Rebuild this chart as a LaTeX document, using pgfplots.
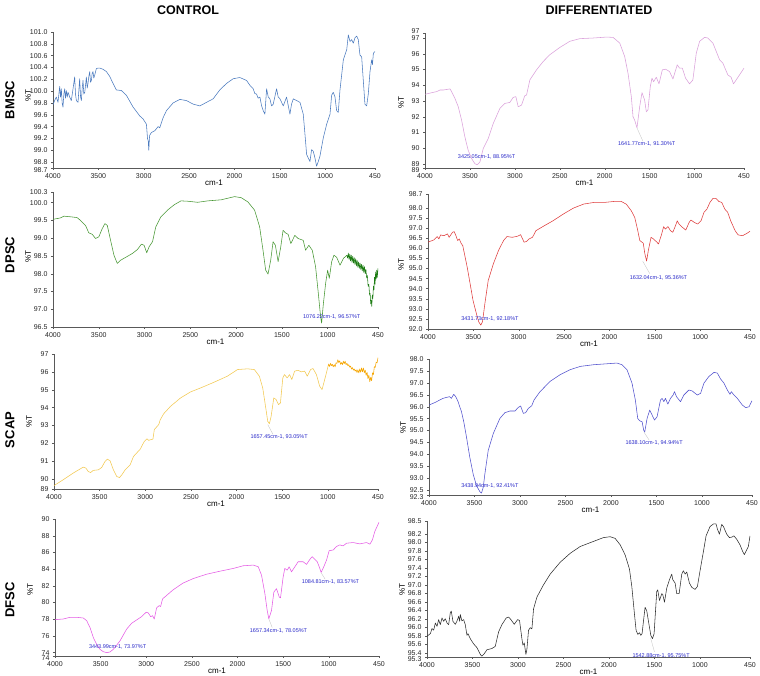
\documentclass[border=0pt]{standalone}
\usepackage{fontspec}
\setmainfont{Liberation Sans}
\setsansfont{Liberation Sans}
\usepackage{pgfplots}
\pgfplotsset{compat=1.18}
\definecolor{cBMc}{RGB}{74,122,190}
\definecolor{cBMd}{RGB}{218,160,218}
\definecolor{cDPc}{RGB}{70,150,50}
\definecolor{cDPcn}{RGB}{30,125,20}
\definecolor{cDPd}{RGB}{222,60,60}
\definecolor{cSCc}{RGB}{242,200,80}
\definecolor{cSCcn}{RGB}{245,165,0}
\definecolor{cSCd}{RGB}{80,80,205}
\definecolor{cDFc}{RGB}{228,90,228}
\definecolor{cDFd}{RGB}{45,45,45}
\definecolor{canno}{RGB}{40,40,200}
\tikzset{anno/.style={font=\fontsize{5.5}{5.5}\selectfont, text=canno, inner sep=0pt},
lead/.style={draw=black!25, line width=0.3pt}}
\pgfplotsset{ftir/.style={
  scale only axis, anchor=south west, clip mode=individual,
  x dir=reverse, xmin=450, xmax=4000,
  xtick={450,1000,1500,2000,2500,3000,3500,4000},
  axis x line*=bottom, axis y line*=left,
  axis line style={-, draw=black!65, line width=0.4pt},
  tick style={draw=black!65, line width=0.4pt},
  tick align=outside, major tick length=2pt,
  ticklabel style={font=\fontsize{7}{7}\selectfont, text=black!85},
  /pgf/number format/assume math mode=true,
  xticklabel style={/pgf/number format/fixed, /pgf/number format/set thousands separator={}, /pgf/number format/precision=0},
  xlabel={cm-1}, xlabel style={font=\fontsize{8}{8}\selectfont, yshift=5.5pt},
  every axis plot/.append style={line width=0.55pt, mark=none, line join=round},
  extra y tick style={yticklabel style={yshift=-2.5pt}},
},
y1/.style={yticklabel style={/pgf/number format/fixed, /pgf/number format/fixed zerofill, /pgf/number format/precision=1}},
y0/.style={yticklabel style={/pgf/number format/fixed, /pgf/number format/precision=0}},
}
\begin{document}
\begin{tikzpicture}
\useasboundingbox (0,0) rectangle (760pt,676pt);
\node[font=\bfseries\fontsize{12.5}{12.5}\selectfont] at (188pt,666pt) {CONTROL};
\node[font=\bfseries\fontsize{12.5}{12.5}\selectfont] at (599pt,666pt) {DIFFERENTIATED};
\foreach \y/\t in {576/BMSC,421/DPSC,246/SCAP,76/DFSC}
  \node[rotate=90, font=\bfseries\fontsize{13}{13}\selectfont] at (10pt,\y pt) {\t};
\foreach \x/\y in {28/580,28/419,29/254,30/86,401/573,401/411,403/248,402/86}
  \node[rotate=90, font=\fontsize{8}{8}\selectfont] at (\x pt,\y pt) {\%T};

% ---------------- BMSC control
\begin{axis}[ftir, y1, at={(53pt,508pt)}, width=322pt, height=136pt,
  ymin=98.7, ymax=101.0, ytick={98.8,99.0,99.2,99.4,99.6,99.8,100.0,100.2,100.4,100.6,100.8,101.0}, extra y ticks={98.7}]
\addplot[cBMc] coordinates {(4000,99.77)(3982,99.84)(3963,99.90)(3945,99.81)(3926,100.08)(3917,99.90)(3908,100.04)(3899,99.80)(3890,99.73)(3880,99.95)(3871,100.04)(3862,99.88)(3853,100.01)(3843,99.90)(3834,99.98)(3816,99.90)(3798,99.84)(3779,100.04)(3761,100.24)(3752,99.95)(3742,99.84)(3724,99.81)(3706,100.21)(3696,99.90)(3687,99.84)(3678,100.05)(3669,100.18)(3660,99.95)(3650,99.98)(3641,100.10)(3632,100.24)(3623,100.05)(3614,100.13)(3605,100.25)(3595,100.33)(3586,100.15)(3577,100.18)(3568,100.30)(3559,100.33)(3550,100.22)(3540,100.27)(3522,100.38)(3503,100.39)(3485,100.39)(3450,100.37)(3411,100.33)(3375,100.25)(3338,100.13)(3301,100.02)(3246,100.01)(3191,99.93)(3117,99.73)(3043,99.58)(3007,99.53)(2970,99.44)(2958,99.20)(2950,99.16)(2944,99.00)(2935,99.25)(2915,99.30)(2878,99.33)(2841,99.40)(2823,99.38)(2786,99.55)(2749,99.67)(2676,99.80)(2602,99.86)(2528,99.84)(2455,99.78)(2381,99.75)(2308,99.81)(2234,99.87)(2161,100.02)(2087,100.13)(2013,100.21)(1940,100.23)(1866,100.18)(1830,100.10)(1793,100.04)(1775,99.96)(1756,99.95)(1738,99.88)(1719,99.90)(1700,99.75)(1682,99.67)(1664,99.61)(1645,100.04)(1627,99.90)(1609,99.87)(1590,99.75)(1572,99.78)(1535,100.04)(1517,99.90)(1498,99.87)(1461,99.75)(1425,99.90)(1388,99.61)(1370,99.78)(1351,99.87)(1314,99.84)(1277,99.81)(1241,99.61)(1222,99.27)(1204,98.93)(1186,98.87)(1167,98.81)(1149,99.01)(1130,98.98)(1112,98.87)(1094,98.73)(1075,98.81)(1057,98.90)(1020,99.21)(983,99.44)(946,99.61)(928,99.93)(910,99.98)(891,99.90)(873,99.67)(855,99.64)(836,100.02)(799,100.53)(762,100.70)(744,100.95)(726,100.84)(707,100.87)(689,100.81)(671,100.90)(652,100.93)(634,100.87)(616,100.61)(597,100.58)(579,100.18)(561,99.78)(542,99.75)(524,99.95)(505,100.33)(487,100.53)(478,100.45)(468,100.64)(450,100.67)};
\end{axis}

% ---------------- BMSC differentiated
\begin{axis}[ftir, y0, at={(425pt,508pt)}, width=319pt, height=135pt,
  ymin=88.75, ymax=97.32, ytick={89,90,91,92,93,94,95,96,97}, extra y ticks={88.75}]
\addplot[cBMd] coordinates {(4000,93.43)(3870,93.60)(3833,93.70)(3796,93.70)(3722,93.77)(3704,93.60)(3667,93.17)(3630,92.64)(3593,91.79)(3556,90.72)(3519,89.87)(3481,89.34)(3444,89.02)(3419,88.96)(3389,89.13)(3352,89.98)(3296,90.62)(3241,91.57)(3167,92.53)(3111,92.85)(3056,92.91)(3019,93.23)(2989,93.28)(2963,92.64)(2926,92.74)(2889,93.34)(2870,93.38)(2833,94.34)(2759,94.98)(2685,95.51)(2611,95.94)(2500,96.40)(2389,96.79)(2278,96.96)(2130,97.00)(1981,97.06)(1907,97.04)(1833,96.68)(1778,95.83)(1741,94.77)(1704,93.28)(1685,92.00)(1667,91.79)(1641,91.30)(1611,92.64)(1585,93.53)(1556,93.06)(1537,92.32)(1519,92.43)(1493,93.91)(1474,94.45)(1456,94.23)(1426,94.51)(1396,94.09)(1359,94.98)(1322,95.02)(1278,94.87)(1241,94.40)(1193,95.30)(1167,95.09)(1137,95.09)(1100,94.45)(1056,94.09)(1019,94.34)(981,96.04)(944,96.79)(889,97.04)(852,97.00)(796,96.68)(722,95.62)(685,95.40)(630,94.66)(593,94.51)(567,94.09)(537,94.34)(450,95.09)};
\draw[draw=black!65, line width=0.4pt] (axis cs:4000,97.32) -- ++(-2pt,0pt);
\node[anchor=east, font=\fontsize{7}{7}\selectfont, text=black!85, xshift=-2pt, yshift=2pt] at (axis cs:4000,97.32) {97};
\draw[lead] (axis cs:1641.77,91.30) -- (axis cs:1575,90.45);
\node[anno] at (axis cs:3315,89.45) {3425.05cm-1, 88.95\%T};
\node[anno] at (axis cs:1533,90.30) {1641.77cm-1, 91.30\%T};
\end{axis}

% ---------------- DPSC control
\begin{axis}[ftir, y1, at={(53pt,349pt)}, width=325pt, height=135pt,
  ymin=96.5, ymax=100.3, ytick={96.5,97.0,97.5,98.0,98.5,99.0,99.5,100.0,100.3}]
\addplot[cDPc] coordinates {(4000,99.53)(3920,99.57)(3880,99.62)(3846,99.61)(3800,99.60)(3737,99.58)(3700,99.50)(3645,99.36)(3609,99.15)(3572,99.11)(3535,98.99)(3499,99.04)(3462,99.27)(3433,99.41)(3407,99.36)(3371,98.94)(3334,98.52)(3298,98.29)(3261,98.38)(3206,98.46)(3133,98.57)(3078,98.68)(3034,98.83)(3005,98.80)(2976,98.59)(2950,98.76)(2913,98.90)(2877,99.32)(2822,99.60)(2749,99.79)(2676,99.94)(2602,100.05)(2529,100.04)(2420,100.01)(2310,100.05)(2163,100.08)(2017,100.17)(1944,100.14)(1871,100.02)(1798,99.79)(1743,99.32)(1706,98.66)(1677,98.10)(1651,97.99)(1622,98.38)(1596,98.90)(1571,98.80)(1541,98.34)(1512,98.76)(1487,99.22)(1461,99.15)(1432,99.11)(1402,98.85)(1358,99.08)(1322,98.99)(1267,98.94)(1241,98.66)(1205,98.80)(1168,98.66)(1132,98.20)(1102,97.45)(1077,96.79)(1066,96.61)(1048,97.12)(1022,97.73)(1000,98.10)(982,97.87)(956,98.34)(931,98.52)(901,98.46)(865,98.24)(828,98.43)(791,98.52)};
\addplot[cDPcn] coordinates {(791,98.52)(782,98.44)(774,98.58)(766,98.40)(758,98.55)(750,98.36)(742,98.52)(734,98.32)(726,98.49)(718,98.30)(710,98.45)(702,98.26)(694,98.42)(686,98.22)(678,98.38)(670,98.18)(662,98.33)(654,98.15)(646,98.30)(638,98.12)(630,98.26)(622,98.08)(614,98.24)(606,98.04)(598,98.20)(590,98.00)(582,98.12)(574,97.88)(566,97.95)(558,97.65)(550,97.70)(542,97.40)(536,97.45)(530,97.15)(524,97.25)(518,97.08)(512,97.40)(506,97.30)(500,97.65)(494,97.55)(488,97.90)(482,97.70)(476,98.05)(470,97.85)(464,98.10)(458,97.90)(450,98.15)};
\node[anno] at (axis cs:956,96.77) {1076.22cm-1, 96.57\%T};
\end{axis}

% ---------------- DPSC differentiated
\begin{axis}[ftir, y1, at={(428pt,347pt)}, width=322pt, height=135pt,
  ymin=92.0, ymax=98.7, ytick={92.0,92.5,93.0,93.5,94.0,94.5,95.0,95.5,96.0,96.5,97.0,97.5,98.0,98.7}]
\addplot[cDPd] coordinates {(4000,96.31)(3936,96.42)(3899,96.59)(3880,96.47)(3861,96.67)(3824,96.63)(3786,96.72)(3767,96.55)(3730,96.80)(3711,96.83)(3692,96.63)(3673,96.39)(3655,96.47)(3636,96.26)(3617,96.14)(3598,95.73)(3568,95.07)(3542,94.41)(3504,93.43)(3467,92.77)(3441,92.36)(3418,92.19)(3399,92.36)(3373,93.26)(3336,94.41)(3279,95.24)(3223,95.89)(3167,96.39)(3129,96.59)(3073,96.55)(3016,96.60)(2979,96.68)(2941,96.31)(2915,96.34)(2885,96.47)(2848,96.55)(2810,96.88)(2735,97.08)(2622,97.37)(2510,97.70)(2397,98.00)(2284,98.20)(2172,98.28)(2059,98.28)(1947,98.33)(1871,98.33)(1815,98.20)(1759,97.87)(1721,97.54)(1691,96.96)(1665,96.39)(1627,96.26)(1609,95.73)(1590,95.37)(1571,95.89)(1541,96.55)(1515,96.47)(1477,96.31)(1459,96.22)(1429,96.63)(1402,97.08)(1384,96.96)(1354,97.08)(1327,96.88)(1301,96.80)(1271,97.13)(1252,97.37)(1233,97.21)(1196,97.05)(1158,96.91)(1121,97.29)(1102,97.41)(1064,97.29)(1027,97.21)(990,97.37)(957,97.79)(925,97.95)(892,98.28)(859,98.48)(826,98.48)(794,98.33)(761,98.28)(728,97.95)(696,97.79)(663,97.37)(614,96.88)(581,96.67)(532,96.63)(483,96.75)(450,96.85)};
\draw[lead] (axis cs:1632.04,95.36) -- (axis cs:1555,94.75);
\node[anno] at (axis cs:3317,92.49) {3431.73cm-1, 92.18\%T};
\node[anno] at (axis cs:1459,94.55) {1632.04cm-1, 95.36\%T};
\end{axis}

% ---------------- SCAP control
\begin{axis}[ftir, y0, at={(54pt,187pt)}, width=324pt, height=135pt,
  ymin=89.45, ymax=97.0, ytick={89.45,90,91,92,93,94,95,96,97}]
\addplot[cSCc] coordinates {(4000,89.64)(3901,89.96)(3790,90.34)(3717,90.56)(3680,90.67)(3651,90.62)(3625,90.43)(3599,90.37)(3570,90.49)(3515,90.52)(3478,90.65)(3441,90.99)(3416,91.12)(3386,91.03)(3349,90.52)(3313,90.15)(3283,90.09)(3257,90.24)(3221,90.52)(3166,90.80)(3129,91.27)(3055,91.68)(3011,92.11)(2982,92.26)(2963,92.17)(2938,92.21)(2916,92.24)(2901,92.77)(2879,92.90)(2853,93.05)(2835,93.33)(2798,93.66)(2724,94.07)(2614,94.54)(2504,94.88)(2394,95.10)(2247,95.42)(2100,95.76)(1989,96.13)(1879,96.17)(1805,96.13)(1750,95.76)(1713,95.10)(1677,93.89)(1658,93.23)(1640,93.10)(1621,93.51)(1592,94.54)(1566,94.45)(1540,94.17)(1519,94.26)(1493,95.66)(1475,95.85)(1445,95.66)(1419,95.85)(1394,95.57)(1364,96.04)(1327,96.09)(1291,96.00)(1254,96.04)(1225,95.76)(1188,96.13)(1162,96.19)(1125,95.85)(1089,95.20)(1063,95.01)(1034,95.57)(997,96.32)};
\addplot[cSCcn] coordinates {(997,96.32)(990,96.44)(980,96.30)(970,96.47)(960,96.35)(950,96.42)(940,96.28)(930,96.40)(920,96.28)(910,96.50)(900,96.48)(890,96.68)(880,96.52)(870,96.62)(860,96.42)(850,96.52)(840,96.40)(830,96.60)(820,96.46)(810,96.60)(800,96.40)(790,96.48)(780,96.34)(770,96.40)(760,96.26)(750,96.32)(740,96.16)(730,96.24)(720,96.10)(710,96.16)(700,96.04)(690,96.12)(680,95.96)(670,96.12)(660,95.94)(650,96.16)(640,95.98)(630,96.22)(620,96.00)(610,96.22)(600,95.95)(590,96.10)(580,95.80)(570,95.98)(560,95.62)(550,95.82)(540,95.45)(530,95.70)(520,95.50)(510,95.95)(500,95.85)(490,96.30)(480,96.25)(470,96.55)(460,96.50)(450,96.80)};
\draw[lead] (axis cs:1657.45,93.05) -- (axis cs:1600,92.5);
\node[anno] at (axis cs:1533,92.36) {1657.45cm-1, 93.05\%T};
\end{axis}

% ---------------- SCAP differentiated
\begin{axis}[ftir, y1, at={(429pt,181pt)}, width=323pt, height=136pt,
  ymin=92.3, ymax=98.0, ytick={92.5,93.0,93.5,94.0,94.5,95.0,95.5,96.0,96.5,97.0,97.5,98.0}, extra y ticks={92.3}]
\addplot[cSCd] coordinates {(4000,96.07)(3938,96.17)(3882,96.28)(3846,96.35)(3809,96.39)(3772,96.42)(3754,96.35)(3728,96.52)(3706,96.42)(3680,96.21)(3662,96.00)(3643,95.79)(3618,95.37)(3588,94.73)(3552,93.89)(3515,93.18)(3478,92.69)(3441,92.44)(3423,92.38)(3404,92.62)(3386,93.18)(3349,94.17)(3294,94.87)(3221,95.51)(3166,95.75)(3110,95.82)(3055,95.82)(3019,95.97)(2993,96.03)(2963,95.72)(2938,95.75)(2908,95.93)(2871,96.04)(2846,96.28)(2780,96.63)(2669,97.06)(2559,97.34)(2449,97.55)(2338,97.69)(2191,97.76)(2044,97.80)(1934,97.83)(1879,97.76)(1824,97.55)(1769,96.99)(1732,96.28)(1706,95.51)(1684,95.41)(1658,95.37)(1640,95.01)(1629,94.94)(1603,95.51)(1574,95.86)(1548,95.65)(1522,95.44)(1493,95.58)(1456,96.28)(1438,96.35)(1419,96.21)(1401,96.35)(1375,96.11)(1346,96.35)(1317,96.49)(1302,96.63)(1280,96.42)(1236,96.21)(1199,96.49)(1144,96.70)(1107,96.66)(1052,96.49)(1015,96.56)(978,96.99)(923,97.27)(868,97.44)(831,97.41)(795,97.16)(758,96.99)(721,96.70)(692,96.52)(677,96.63)(655,96.52)(611,96.35)(556,96.07)(519,95.96)(482,96.00)(450,96.25)};
\draw[lead] (axis cs:1638.10,94.94) -- (axis cs:1580,94.6);
\node[anno] at (axis cs:3331,92.69) {3438.94cm-1, 92.41\%T};
\node[anno] at (axis cs:1526,94.48) {1638.10cm-1, 94.94\%T};
\end{axis}

% ---------------- DFSC control
\begin{axis}[ftir, y0, at={(55pt,20pt)}, width=324pt, height=137pt,
  ymin=73.6, ymax=90, ytick={74,76,78,80,82,84,86,88,90}, extra y ticks={73.6}]
\addplot[cDFc] coordinates {(4000,77.95)(3909,78.03)(3836,78.23)(3763,78.23)(3690,78.15)(3653,77.83)(3617,77.02)(3580,75.81)(3544,75.01)(3507,74.40)(3471,74.12)(3434,74.00)(3398,74.08)(3361,74.40)(3325,74.89)(3288,75.41)(3252,76.10)(3215,76.82)(3161,77.51)(3106,77.91)(3051,78.31)(3001,78.84)(2978,78.76)(2952,78.31)(2931,78.43)(2912,78.03)(2887,79.36)(2858,79.64)(2843,79.52)(2821,80.45)(2777,80.85)(2704,81.54)(2595,82.34)(2485,82.87)(2339,83.39)(2193,83.75)(2047,84.08)(1938,84.40)(1828,84.48)(1773,84.28)(1737,83.27)(1700,81.05)(1675,79.04)(1657,78.05)(1628,79.04)(1602,81.25)(1573,81.66)(1543,80.65)(1529,80.57)(1500,83.07)(1482,84.08)(1456,83.87)(1434,84.28)(1409,83.67)(1372,84.28)(1336,84.88)(1281,84.88)(1244,84.56)(1208,85.16)(1182,85.49)(1153,85.16)(1127,84.88)(1105,84.28)(1084,83.60)(1055,84.28)(1025,85.08)(996,86.21)(952,86.29)(916,86.70)(879,86.90)(843,86.78)(806,87.10)(733,87.18)(660,87.02)(587,87.18)(550,86.98)(522,87.50)(496,88.51)(450,89.60)};
\draw[lead] (axis cs:1657.34,78.05) -- (axis cs:1620,77.0);
\draw[lead] (axis cs:1084.81,83.57) -- (axis cs:1040,82.8);
\node[anno] at (axis cs:3314,74.68) {3443.99cm-1, 73.97\%T};
\node[anno] at (axis cs:1551,76.62) {1657.34cm-1, 78.05\%T};
\node[anno] at (axis cs:982,82.46) {1084.81cm-1, 83.57\%T};
\end{axis}

% ---------------- DFSC differentiated
\begin{axis}[ftir, y1, at={(427pt,19pt)}, width=323pt, height=136pt,
  ymin=95.3, ymax=98.5, ytick={95.4,95.6,95.8,96.0,96.2,96.4,96.6,96.8,97.0,97.2,97.4,97.6,97.8,98.0,98.2,98.5}, extra y ticks={95.3}]
\addplot[cDFd] coordinates {(4000,95.79)(3963,95.85)(3945,95.97)(3927,95.93)(3908,96.10)(3890,96.02)(3872,96.18)(3854,96.06)(3835,96.22)(3817,96.14)(3799,96.20)(3780,96.10)(3762,96.06)(3744,96.34)(3733,96.38)(3715,96.14)(3689,96.07)(3671,96.14)(3652,96.26)(3641,96.14)(3634,96.30)(3616,96.15)(3597,96.18)(3579,96.06)(3561,95.81)(3550,95.85)(3524,95.73)(3488,95.61)(3451,95.52)(3414,95.36)(3396,95.32)(3370,95.38)(3341,95.47)(3286,95.50)(3250,95.55)(3213,95.89)(3177,96.06)(3129,96.22)(3103,96.24)(3078,96.18)(3041,96.07)(3004,96.18)(2983,96.16)(2957,95.73)(2946,95.58)(2931,95.63)(2913,95.36)(2902,95.48)(2884,95.93)(2865,95.99)(2847,95.96)(2829,96.43)(2792,96.71)(2719,97.00)(2646,97.25)(2536,97.53)(2426,97.74)(2316,97.90)(2170,98.02)(2060,98.11)(1987,98.13)(1932,98.09)(1877,97.94)(1822,97.70)(1775,97.37)(1749,96.96)(1723,96.38)(1702,95.93)(1683,95.83)(1665,95.87)(1650,95.81)(1636,95.85)(1621,96.14)(1603,96.47)(1584,96.38)(1566,96.14)(1540,95.81)(1522,95.73)(1504,95.85)(1475,96.84)(1464,96.88)(1445,96.63)(1420,96.79)(1409,96.77)(1390,96.59)(1365,96.92)(1335,97.12)(1310,97.25)(1299,97.12)(1273,97.04)(1255,96.79)(1229,96.79)(1200,97.25)(1182,97.33)(1163,97.25)(1145,97.30)(1116,97.04)(1090,96.94)(1054,96.89)(1028,96.96)(999,97.33)(962,97.78)(933,98.15)(889,98.37)(852,98.43)(823,98.43)(808,98.31)(786,98.19)(761,98.42)(742,98.37)(706,98.19)(677,98.11)(651,98.12)(626,98.15)(596,98.07)(560,97.94)(530,97.78)(512,97.71)(487,97.82)(468,97.90)(450,98.15)};
\draw[lead] (axis cs:1542.88,95.75) -- (axis cs:1500,95.42);
\node[anno] at (axis cs:1427,95.32) {1542.88cm-1, 95.75\%T};
\end{axis}
\end{tikzpicture}
\end{document}
